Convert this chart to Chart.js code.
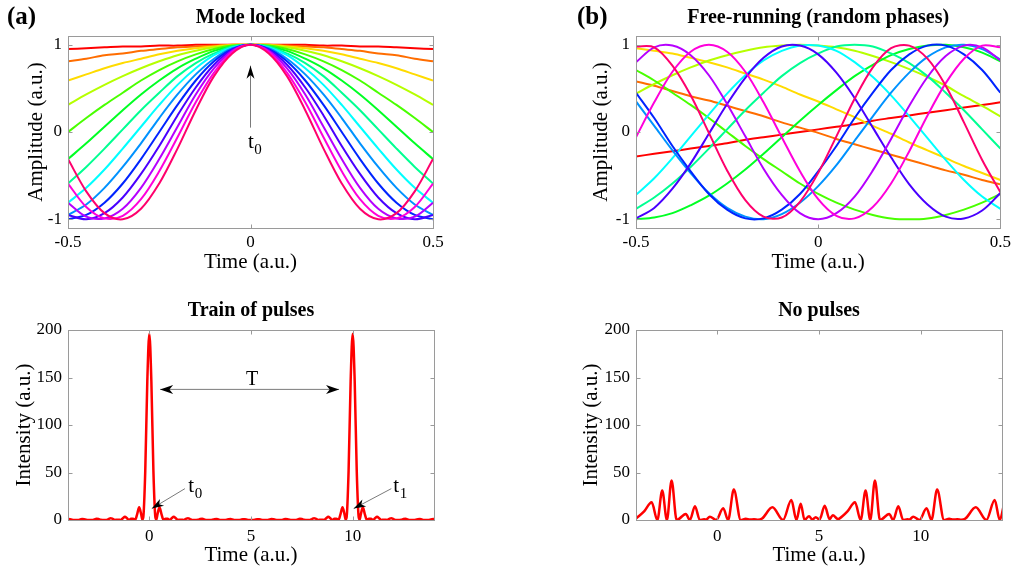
<!DOCTYPE html>
<html>
<head>
<meta charset="utf-8">
<title>Mode locking</title>
<script src="https://cdn.jsdelivr.net/npm/chart.js@4.4.1/dist/chart.umd.min.js"></script>
<style>
  html, body { margin: 0; padding: 0; background: #fff; }
  body { width: 1015px; height: 571px; position: relative; overflow: hidden; }
  canvas { position: absolute; }
</style>
</head>
<body>
<canvas id="lockedChart" width="507" height="285" style="left:0;top:0"></canvas>
<canvas id="freeChart" width="447" height="285" style="left:568px;top:0"></canvas>
<canvas id="trainChart" width="507" height="281" style="left:0;top:290px"></canvas>
<canvas id="noPulseChart" width="447" height="281" style="left:568px;top:290px"></canvas>
<script>
// ---- data ----
const timeGrid = [-0.5, -0.45, -0.4, -0.35, -0.3, -0.25, -0.2, -0.15, -0.1, -0.05, 0,
                  0.05, 0.1, 0.15, 0.2, 0.25, 0.3, 0.35, 0.4, 0.45, 0.5];

// one colour per longitudinal mode, lowest frequency first
const modeColors = ['#ff0000', '#ff6d00', '#ffdb00', '#b6ff00', '#49ff00', '#00ff24', '#00ff92',
                    '#00ffff', '#0092ff', '#0024ff', '#4900ff', '#b600ff', '#ff00db', '#ff006d'];

// modes in phase: all peak together at t0
const lockedModes = [
  [0.95, 0.96, 0.97, 0.98, 0.98, 0.99, 0.99, 1, 1, 1, 1, 1, 1, 1, 0.99, 0.99, 0.98, 0.98, 0.97, 0.96, 0.95],
  [0.81, 0.84, 0.88, 0.90, 0.93, 0.95, 0.97, 0.98, 0.99, 1, 1, 1, 0.99, 0.98, 0.97, 0.95, 0.93, 0.90, 0.88, 0.84, 0.81],
  [0.59, 0.66, 0.73, 0.79, 0.84, 0.89, 0.93, 0.96, 0.98, 1, 1, 1, 0.98, 0.96, 0.93, 0.89, 0.84, 0.79, 0.73, 0.66, 0.59],
  [0.31, 0.43, 0.54, 0.64, 0.73, 0.81, 0.88, 0.93, 0.97, 0.99, 1, 0.99, 0.97, 0.93, 0.88, 0.81, 0.73, 0.64, 0.54, 0.43, 0.31],
  [0, 0.16, 0.31, 0.45, 0.59, 0.71, 0.81, 0.89, 0.95, 0.99, 1, 0.99, 0.95, 0.89, 0.81, 0.71, 0.59, 0.45, 0.31, 0.16, 0],
  [-0.31, -0.13, 0.06, 0.25, 0.43, 0.59, 0.73, 0.84, 0.93, 0.98, 1, 0.98, 0.93, 0.84, 0.73, 0.59, 0.43, 0.25, 0.06, -0.13, -0.31],
  [-0.59, -0.40, -0.19, 0.03, 0.25, 0.45, 0.64, 0.79, 0.90, 0.98, 1, 0.98, 0.90, 0.79, 0.64, 0.45, 0.25, 0.03, -0.19, -0.40, -0.59],
  [-0.81, -0.64, -0.43, -0.19, 0.06, 0.31, 0.54, 0.73, 0.88, 0.97, 1, 0.97, 0.88, 0.73, 0.54, 0.31, 0.06, -0.19, -0.43, -0.64, -0.81],
  [-0.95, -0.83, -0.64, -0.40, -0.13, 0.16, 0.43, 0.66, 0.84, 0.96, 1, 0.96, 0.84, 0.66, 0.43, 0.16, -0.13, -0.40, -0.64, -0.83, -0.95],
  [-1, -0.95, -0.81, -0.59, -0.31, 0, 0.31, 0.59, 0.81, 0.95, 1, 0.95, 0.81, 0.59, 0.31, 0, -0.31, -0.59, -0.81, -0.95, -1],
  [-0.95, -1, -0.93, -0.75, -0.48, -0.16, 0.19, 0.51, 0.77, 0.94, 1, 0.94, 0.77, 0.51, 0.19, -0.16, -0.48, -0.75, -0.93, -1, -0.95],
  [-0.81, -0.97, -0.99, -0.88, -0.64, -0.31, 0.06, 0.43, 0.73, 0.93, 1, 0.93, 0.73, 0.43, 0.06, -0.31, -0.64, -0.88, -0.99, -0.97, -0.81],
  [-0.59, -0.86, -0.99, -0.96, -0.77, -0.45, -0.06, 0.34, 0.68, 0.92, 1, 0.92, 0.68, 0.34, -0.06, -0.45, -0.77, -0.96, -0.99, -0.86, -0.59],
  [-0.31, -0.68, -0.93, -1, -0.88, -0.59, -0.19, 0.25, 0.64, 0.90, 1, 0.90, 0.64, 0.25, -0.19, -0.59, -0.88, -1, -0.93, -0.68, -0.31]
];

// same modes with random phases
const freeModes = [
  [-0.28, -0.25, -0.22, -0.19, -0.16, -0.13, -0.09, -0.06, -0.03, 0, 0.03, 0.06, 0.09, 0.13, 0.16, 0.19, 0.22, 0.25, 0.28, 0.31, 0.34],
  [0.58, 0.53, 0.47, 0.41, 0.36, 0.30, 0.24, 0.18, 0.11, 0.05, -0.01, -0.08, -0.14, -0.20, -0.26, -0.32, -0.38, -0.44, -0.49, -0.55, -0.60],
  [0.96, 0.93, 0.90, 0.85, 0.80, 0.74, 0.67, 0.60, 0.52, 0.43, 0.35, 0.26, 0.17, 0.07, -0.02, -0.12, -0.21, -0.30, -0.39, -0.47, -0.55],
  [0.44, 0.55, 0.65, 0.74, 0.82, 0.88, 0.93, 0.97, 0.99, 1, 0.99, 0.97, 0.93, 0.87, 0.80, 0.72, 0.63, 0.53, 0.41, 0.30, 0.18],
  [0.71, 0.59, 0.45, 0.31, 0.16, 0, -0.16, -0.31, -0.45, -0.59, -0.71, -0.81, -0.89, -0.95, -0.99, -1, -0.99, -0.95, -0.89, -0.81, -0.71],
  [-1, -0.98, -0.93, -0.84, -0.73, -0.59, -0.43, -0.25, -0.06, 0.13, 0.31, 0.48, 0.64, 0.77, 0.88, 0.95, 0.99, 1, 0.97, 0.91, 0.81],
  [-0.88, -0.75, -0.59, -0.40, -0.19, 0.03, 0.25, 0.45, 0.64, 0.79, 0.90, 0.98, 1, 0.98, 0.90, 0.79, 0.64, 0.45, 0.25, 0.03, -0.19],
  [-0.72, -0.53, -0.30, -0.05, 0.20, 0.44, 0.65, 0.82, 0.93, 0.99, 0.99, 0.93, 0.80, 0.63, 0.42, 0.18, -0.07, -0.32, -0.55, -0.74, -0.88],
  [0.35, 0.07, -0.21, -0.47, -0.70, -0.87, -0.97, -1, -0.94, -0.81, -0.62, -0.38, -0.10, 0.18, 0.45, 0.68, 0.86, 0.97, 1, 0.95, 0.83],
  [0.45, 0.16, -0.16, -0.45, -0.71, -0.89, -0.99, -0.99, -0.89, -0.71, -0.45, -0.16, 0.16, 0.45, 0.71, 0.89, 0.99, 0.99, 0.89, 0.71, 0.45],
  [-0.99, -0.87, -0.65, -0.36, -0.02, 0.32, 0.62, 0.85, 0.98, 0.99, 0.89, 0.68, 0.39, 0.05, -0.29, -0.60, -0.83, -0.97, -0.99, -0.90, -0.70],
  [0.80, 0.97, 0.99, 0.88, 0.65, 0.32, -0.05, -0.42, -0.72, -0.93, -1, -0.93, -0.74, -0.44, -0.08, 0.30, 0.63, 0.87, 0.99, 0.97, 0.82],
  [-0.06, 0.34, 0.69, 0.92, 1, 0.92, 0.69, 0.34, -0.06, -0.45, -0.77, -0.96, -0.99, -0.86, -0.59, -0.22, 0.19, 0.56, 0.84, 0.99, 0.97],
  [0.98, 0.97, 0.76, 0.42, -0.01, -0.44, -0.78, -0.97, -0.98, -0.80, -0.47, -0.05, 0.38, 0.74, 0.96, 0.99, 0.84, 0.53, 0.11, -0.32, -0.69]
];

// summed intensity, locked phases (period T = 10)
const pulseTime = [
  -4, -3.9, -3.8, -3.7, -3.6, -3.5, -3.4, -3.3, -3.2, -3.1,
  -3, -2.9, -2.8, -2.7, -2.6, -2.5, -2.4, -2.3, -2.2, -2.1,
  -2, -1.9, -1.8, -1.7, -1.6, -1.5, -1.4, -1.3, -1.2, -1.1,
  -1, -0.9, -0.8, -0.7, -0.6, -0.5, -0.4, -0.35, -0.3, -0.2, -0.1,
  0, 0.1, 0.2, 0.3, 0.35, 0.4, 0.5, 0.6, 0.7, 0.8, 0.9,
  1, 1.1, 1.2, 1.3, 1.4, 1.5, 1.6, 1.7, 1.8, 1.9,
  2, 2.1, 2.2, 2.3, 2.4, 2.5, 2.6, 2.7, 2.8, 2.9,
  3, 3.1, 3.2, 3.3, 3.4, 3.5, 3.6, 3.7, 3.8, 3.9,
  4, 4.1, 4.2, 4.3, 4.4, 4.5, 4.6, 4.7, 4.8, 4.9,
  5, 5.1, 5.2, 5.3, 5.4, 5.5, 5.6, 5.7, 5.8, 5.9,
  6, 6.1, 6.2, 6.3, 6.4, 6.5, 6.6, 6.7, 6.8, 6.9,
  7, 7.1, 7.2, 7.3, 7.4, 7.5, 7.6, 7.7, 7.8, 7.9,
  8, 8.1, 8.2, 8.3, 8.4, 8.5, 8.6, 8.7, 8.8, 8.9,
  9, 9.1, 9.2, 9.3, 9.4, 9.5, 9.6, 9.65, 9.7, 9.8, 9.9,
  10, 10.1, 10.2, 10.3, 10.35, 10.4, 10.5, 10.6, 10.7, 10.8, 10.9,
  11, 11.1, 11.2, 11.3, 11.4, 11.5, 11.6, 11.7, 11.8, 11.9,
  12, 12.1, 12.2, 12.3, 12.4, 12.5, 12.6, 12.7, 12.8, 12.9,
  13, 13.1, 13.2, 13.3, 13.4, 13.5, 13.6, 13.7, 13.8, 13.9,
  14
];
const pulseIntensity = [
  1.0, 0.88, 0.28, 0.01, 0, 0.06, 0.55, 1.14, 0.92, 0.23,
  0, 0.01, 0.07, 0.70, 1.39, 1.0, 0.17, 0.02, 0.05, 0.07,
  1.0, 1.93, 1.20, 0.08, 0.19, 0.23, 0.08, 1.78, 3.44, 1.77,
  0, 1.41, 1.43, 0.08, 5.98, 13.37, 5.85, 0.51, 2.59, 52.0, 145.9,
  196, 145.9, 52.0, 2.59, 0.51, 5.85, 13.37, 5.98, 0.08, 1.43, 1.41,
  0, 1.77, 3.44, 1.78, 0.08, 0.23, 0.19, 0.08, 1.20, 1.93,
  1.0, 0.07, 0.05, 0.02, 0.17, 1.0, 1.39, 0.70, 0.07, 0.01,
  0, 0.23, 0.92, 1.14, 0.55, 0.06, 0, 0.01, 0.28, 0.88,
  1.0, 0.46, 0.05, 0, 0.02, 0.34, 0.89, 0.92, 0.39, 0.04,
  0, 0.04, 0.39, 0.92, 0.89, 0.34, 0.02, 0, 0.05, 0.46,
  1.0, 0.88, 0.28, 0.01, 0, 0.06, 0.55, 1.14, 0.92, 0.23,
  0, 0.01, 0.07, 0.70, 1.39, 1.0, 0.17, 0.02, 0.05, 0.07,
  1.0, 1.93, 1.20, 0.08, 0.19, 0.23, 0.08, 1.78, 3.44, 1.77,
  0, 1.41, 1.43, 0.08, 5.98, 13.37, 5.85, 0.51, 2.59, 52.0, 145.9,
  196, 145.9, 52.0, 2.59, 0.51, 5.85, 13.37, 5.98, 0.08, 1.43, 1.41,
  0, 1.77, 3.44, 1.78, 0.08, 0.23, 0.19, 0.08, 1.20, 1.93,
  1.0, 0.07, 0.05, 0.02, 0.17, 1.0, 1.39, 0.70, 0.07, 0.01,
  0, 0.23, 0.92, 1.14, 0.55, 0.06, 0, 0.01, 0.28, 0.88,
  1.0
];

// summed intensity, random phases (peaks and troughs)
const noiseTime = [
  -4, -3.6, -3.23, -2.95, -2.71, -2.48, -2.25, -2, -1.55, -1.35, -1.1, -0.86, -0.65, -0.55, -0.37, -0.06,
  0.29, 0.53, 0.81, 1.15, 1.4, 1.6, 1.8, 2, 2.2, 2.71, 3.23, 3.64, 3.89, 4.1, 4.29, 4.51, 4.67, 4.84,
  5.03, 5.28, 5.52, 5.68, 5.93,
  6, 6.4, 6.77, 7.05, 7.29, 7.52, 7.75, 8, 8.45, 8.65, 8.9, 9.14, 9.35, 9.45, 9.63, 9.94,
  10.29, 10.53, 10.81, 11.15, 11.4, 11.6, 11.8, 12, 12.2, 12.71, 13.23, 13.64, 13.89, 14.1
];
const noiseIntensity = [
  1.5, 9, 18.6, 0, 31, 0, 41.5, 0, 6.3, 0, 14.4, 0, 0.8, 0.4, 3.5, 0,
  12.3, 0, 32, 0, 1.2, 0.5, 0.8, 0.3, 1.5, 13.3, 0, 21, 0, 17, 0, 4, 0.5, 3,
  0.5, 15, 1, 5, 1,
  1.5, 9, 18.6, 0, 31, 0, 41.5, 0, 6.3, 0, 14.4, 0, 0.8, 0.4, 3.5, 0,
  12.3, 0, 32, 0, 1.2, 0.5, 0.8, 0.3, 1.5, 13.3, 0, 21, 0, 17
];

const amplitudeTicks = [-1, 0, 1];
const amplitudeLabels = ['-1', '0', '1'];
const shortTimeTicks = [-0.5, 0, 0.5];
const shortTimeLabels = ['-0.5', '0', '0.5'];
const intensityTicks = [0, 50, 100, 150, 200];
const intensityLabels = ['0', '50', '100', '150', '200'];
const longTimeTicks = [0, 5, 10];
const longTimeLabels = ['0', '5', '10'];

// ---- drawing helpers ----
const serif = '"Liberation Serif", "Times New Roman", serif';

function toPoints(xs, ys) {
  return xs.map((x, i) => ({ x: x, y: ys[i] }));
}

function modeDatasets(rows) {
  return rows.map((row, i) => ({
    label: 'mode ' + (i + 1),
    data: toPoints(timeGrid, row),
    borderColor: modeColors[i],
    borderWidth: 2,
    tension: 0.33,
    order: 100 - i
  }));
}

// grey axes box with short inward ticks on all four sides
const framePlugin = {
  id: 'frame',
  afterDatasetsDraw(chart) {
    const { ctx, chartArea: a, scales } = chart;
    const l = Math.round(a.left) + 0.5, r = Math.round(a.right) + 0.5;
    const t = Math.round(a.top) + 0.5, b = Math.round(a.bottom) + 0.5;
    ctx.save();
    ctx.strokeStyle = '#9a9a9a';
    ctx.lineWidth = 1;
    ctx.strokeRect(l, t, r - l, b - t);
    ctx.beginPath();
    scales.x.ticks.forEach(tk => {
      const px = Math.round(scales.x.getPixelForValue(tk.value)) + 0.5;
      ctx.moveTo(px, b); ctx.lineTo(px, b - 4);
      ctx.moveTo(px, t); ctx.lineTo(px, t + 4);
    });
    scales.y.ticks.forEach(tk => {
      const py = Math.round(scales.y.getPixelForValue(tk.value)) + 0.5;
      ctx.moveTo(l, py); ctx.lineTo(l + 4, py);
      ctx.moveTo(r, py); ctx.lineTo(r - 4, py);
    });
    ctx.stroke();
    ctx.restore();
  }
};

function arrowHead(ctx, tipX, tipY, fromX, fromY, len, half) {
  const ang = Math.atan2(tipY - fromY, tipX - fromX);
  ctx.save();
  ctx.translate(tipX, tipY);
  ctx.rotate(ang);
  ctx.beginPath();
  ctx.moveTo(0, 0);
  ctx.lineTo(-len, -half);
  ctx.lineTo(-len * 0.72, 0);
  ctx.lineTo(-len, half);
  ctx.closePath();
  ctx.fillStyle = '#000';
  ctx.fill();
  ctx.restore();
}

// titles, panel letters, arrows and t0/t1/T markers
function textPlugin(text) {
  return {
    id: 'panelText',
    afterDraw(chart) {
      const { ctx, chartArea: a, scales: { x, y } } = chart;
      ctx.save();
      ctx.fillStyle = '#000';
      ctx.textBaseline = 'alphabetic';
      if (text.letter) {
        ctx.font = 'bold 25px ' + serif;
        ctx.textAlign = 'left';
        ctx.fillText(text.letter, text.letterX, text.letterY);
      }
      ctx.font = 'bold 20px ' + serif;
      ctx.textAlign = 'center';
      ctx.fillText(text.title, (a.left + a.right) / 2, text.titleY);

      (text.arrows || []).forEach(ar => {
        const x0 = x.getPixelForValue(ar.from[0]), y0 = y.getPixelForValue(ar.from[1]);
        const x1 = x.getPixelForValue(ar.to[0]), y1 = y.getPixelForValue(ar.to[1]);
        ctx.strokeStyle = '#7a7a7a';
        ctx.lineWidth = 1;
        ctx.beginPath();
        ctx.moveTo(x0, y0);
        ctx.lineTo(x1, y1);
        ctx.stroke();
        arrowHead(ctx, x1, y1, x0, y0, ar.len, ar.half);
        if (ar.both) arrowHead(ctx, x0, y0, x1, y1, ar.len, ar.half);
      });

      (text.marks || []).forEach(m => {
        const px = x.getPixelForValue(m.at[0]), py = y.getPixelForValue(m.at[1]);
        ctx.font = m.size + 'px ' + serif;
        ctx.textAlign = m.center ? 'center' : 'left';
        ctx.fillText(m.main, px, py);
        if (m.sub) {
          const w = ctx.measureText(m.main).width;
          ctx.font = Math.round(m.size * 0.72) + 'px ' + serif;
          ctx.textAlign = 'left';
          ctx.fillText(m.sub, px + w + 0.5, py + m.size * 0.28);
        }
      });
      ctx.restore();
    }
  };
}

function makePanel(id, cfg) {
  return new Chart(document.getElementById(id), {
    type: 'line',
    data: { datasets: cfg.datasets },
    options: {
      responsive: false,
      animation: false,
      devicePixelRatio: 1,
      layout: { padding: { left: 0, top: cfg.top, right: cfg.right, bottom: 0 } },
      elements: { point: { radius: 0 } },
      plugins: { legend: { display: false }, tooltip: { enabled: false } },
      scales: {
        x: {
          type: 'linear',
          min: cfg.xMin,
          max: cfg.xMax,
          afterFit: s => { s.height = cfg.xHeight; },
          afterBuildTicks: s => { s.ticks = cfg.xTicks.map(v => ({ value: v })); },
          grid: { display: false, drawTicks: false },
          border: { display: false },
          ticks: {
            autoSkip: false, maxRotation: 0, padding: cfg.xTickPad, color: '#000',
            font: { family: serif, size: 17 },
            callback: (v, i) => cfg.xLabels[i]
          },
          title: {
            display: true, text: 'Time (a.u.)', color: '#000',
            font: { family: serif, size: 21 },
            padding: { top: 0, bottom: cfg.xTitlePad }
          }
        },
        y: {
          min: cfg.yMin,
          max: cfg.yMax,
          afterFit: s => { s.width = 68; },
          afterBuildTicks: s => { s.ticks = cfg.yTicks.map(v => ({ value: v })); },
          grid: { display: false, drawTicks: false },
          border: { display: false },
          ticks: {
            autoSkip: false, padding: 6, color: '#000',
            font: { family: serif, size: 17 },
            callback: (v, i) => cfg.yLabels[i]
          },
          title: {
            display: true, text: cfg.yTitle, color: '#000',
            font: { family: serif, size: 21 },
            padding: { top: cfg.yTitlePad, bottom: 0 }
          }
        }
      }
    },
    plugins: [framePlugin, textPlugin(cfg.text)]
  });
}

// ---- panels ----
makePanel('lockedChart', {
  datasets: modeDatasets(lockedModes),
  top: 36, right: 74, xHeight: 57,
  xMin: -0.5, xMax: 0.5, xTicks: shortTimeTicks, xLabels: shortTimeLabels, xTickPad: 4, xTitlePad: 10,
  yMin: -1.1, yMax: 1.1, yTicks: amplitudeTicks, yLabels: amplitudeLabels,
  yTitle: 'Amplitude (a.u.)', yTitlePad: 24,
  text: {
    letter: '(a)', letterX: 7, letterY: 24, title: 'Mode locked', titleY: 23,
    arrows: [{ from: [0, 0.05], to: [0, 0.76], len: 13, half: 4 }],
    marks: [{ main: 't', sub: '0', at: [-0.007, -0.18], size: 21 }]
  }
});

makePanel('freeChart', {
  datasets: modeDatasets(freeModes),
  top: 36, right: 14, xHeight: 57,
  xMin: -0.5, xMax: 0.5, xTicks: shortTimeTicks, xLabels: shortTimeLabels, xTickPad: 4, xTitlePad: 10,
  yMin: -1.1, yMax: 1.1, yTicks: amplitudeTicks, yLabels: amplitudeLabels,
  yTitle: 'Amplitude (a.u.)', yTitlePad: 20.7,
  text: { letter: '(b)', letterX: 9, letterY: 24, title: 'Free-running (random phases)', titleY: 23 }
});

makePanel('trainChart', {
  datasets: [{
    label: 'locked intensity',
    data: toPoints(pulseTime, pulseIntensity),
    borderColor: '#ff0000', borderWidth: 2.5, cubicInterpolationMode: 'monotone'
  }],
  top: 40, right: 73, xHeight: 51,
  xMin: -4, xMax: 14, xTicks: longTimeTicks, xLabels: longTimeLabels, xTickPad: 6.5, xTitlePad: 3.4,
  yMin: 0, yMax: 200, yTicks: intensityTicks, yLabels: intensityLabels,
  yTitle: 'Intensity (a.u.)', yTitlePad: 11.4,
  text: {
    title: 'Train of pulses', titleY: 26,
    arrows: [
      { from: [0.53, 137.5], to: [9.33, 137.5], len: 13, half: 4.5, both: true },
      { from: [1.75, 33], to: [0.12, 12], len: 12, half: 4 },
      { from: [11.9, 33], to: [10.05, 12], len: 12, half: 4 }
    ],
    marks: [
      { main: 'T', at: [5.05, 142], size: 20, center: true },
      { main: 't', sub: '0', at: [1.92, 29], size: 21 },
      { main: 't', sub: '1', at: [12.0, 29], size: 21 }
    ]
  }
});

makePanel('noPulseChart', {
  datasets: [{
    label: 'random-phase intensity',
    data: toPoints(noiseTime, noiseIntensity),
    borderColor: '#ff0000', borderWidth: 2.5, cubicInterpolationMode: 'monotone'
  }],
  top: 40, right: 13, xHeight: 51,
  xMin: -4, xMax: 14, xTicks: longTimeTicks, xLabels: longTimeLabels, xTickPad: 6.5, xTitlePad: 3.4,
  yMin: 0, yMax: 200, yTicks: intensityTicks, yLabels: intensityLabels,
  yTitle: 'Intensity (a.u.)', yTitlePad: 11.1,
  text: { title: 'No pulses', titleY: 26 }
});
</script>
</body>
</html>
